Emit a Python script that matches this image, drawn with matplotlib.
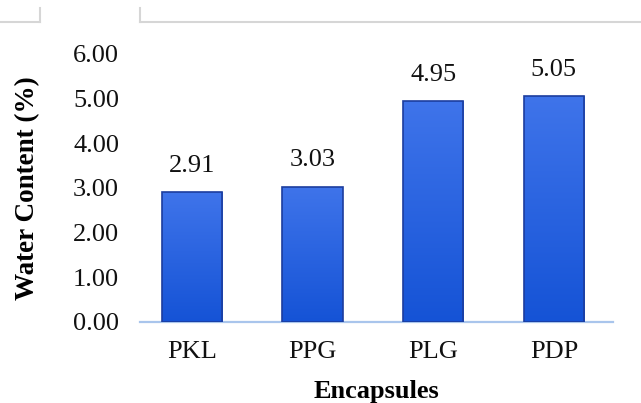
import numpy as np
import matplotlib
matplotlib.use("Agg")
import matplotlib.pyplot as plt
from matplotlib.lines import Line2D
from matplotlib.colors import LinearSegmentedColormap

categories = ["PKL", "PPG", "PLG", "PDP"]
water_content = [2.91, 3.03, 4.95, 5.05]
y_ticks = [0.0, 1.0, 2.0, 3.0, 4.0, 5.0, 6.0]

plt.rcParams["font.family"] = ["Liberation Serif", "DejaVu Serif"]

W, H = 641, 403
fig = plt.figure(figsize=(W / 100, H / 100), dpi=100)
ax = fig.add_axes([140 / W, (H - 322) / H, (613 - 140) / W, (322 - 54) / H])

x = np.arange(len(categories))
bars = ax.bar(x, water_content, width=0.5, color="none",
              edgecolor="#1c3d9e", linewidth=1.2, zorder=3)

# vertical gradient fill inside each bar
grad = LinearSegmentedColormap.from_list("barfill", ["#1553d6", "#3f74ea"])
gy = np.linspace(0, 1, 256).reshape(-1, 1)
for rect in bars:
    x0, w, h = rect.get_x(), rect.get_width(), rect.get_height()
    im = ax.imshow(gy, cmap=grad, origin="lower", aspect="auto",
                   extent=[x0, x0 + w, 0, h], zorder=2, interpolation="bilinear")
    im.set_clip_path(rect)

for xi, v in zip(x, water_content):
    ax.annotate(f"{v:.2f}", (xi, v), xytext=(0, 11), textcoords="offset points",
                ha="center", va="bottom", fontsize=19, color="#111111")

ax.set_xlim(-0.43, 3.49)
ax.set_ylim(0, 6)
ax.set_xticks(x)
ax.set_xticklabels(categories)
ax.set_yticks(y_ticks)
ax.set_yticklabels([f"{t:.2f}" for t in y_ticks])
ax.tick_params(axis="both", length=0, labelsize=19, colors="#111111")
ax.tick_params(axis="y", pad=15)
ax.tick_params(axis="x", pad=14)

for side in ["top", "right", "left"]:
    ax.spines[side].set_visible(False)
ax.spines["bottom"].set_color("#a9c5ec")
ax.spines["bottom"].set_linewidth(1.6)
ax.spines["bottom"].set_zorder(1)

ax.set_xlabel("Encapsules", fontsize=19, fontweight="bold", labelpad=12)
ax.set_ylabel("Water Content (%)", fontsize=19.5, fontweight="bold", labelpad=24)

# light frame edges along the top of the canvas
frame_kw = dict(color="#d6d6d6", linewidth=1.5, transform=fig.transFigure)
def fx(px):
    return px / W
def fy(py):
    return 1 - py / H
fig.add_artist(Line2D([fx(0), fx(40)], [fy(22), fy(22)], **frame_kw))
fig.add_artist(Line2D([fx(40), fx(40)], [fy(8), fy(22)], **frame_kw))
fig.add_artist(Line2D([fx(140), fx(140)], [fy(8), fy(22)], **frame_kw))
fig.add_artist(Line2D([fx(140), fx(641)], [fy(22), fy(22)], **frame_kw))

fig.savefig("out.png", dpi=100)
